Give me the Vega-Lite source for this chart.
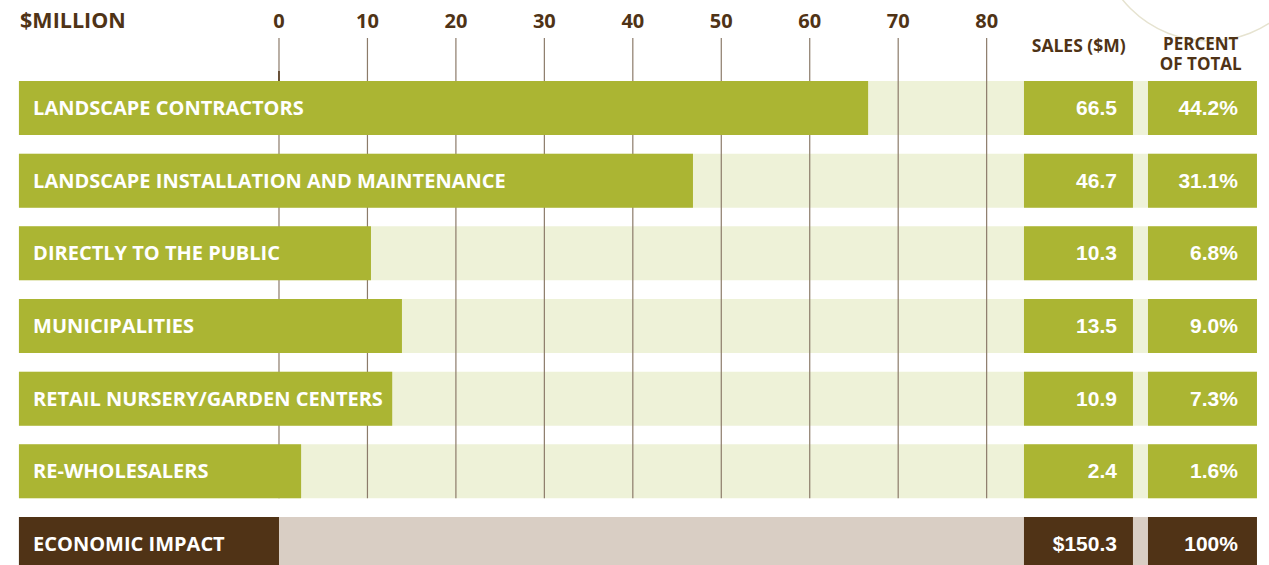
{
  "$schema": "https://vega.github.io/schema/vega-lite/v6.json",
  "width": 1269,
  "height": 565,
  "padding": 0,
  "autosize": {"type": "none"},
  "background": "white",
  "config": {"view": {"stroke": null}, "scale": {"continuousPadding": 0}},
  "datasets": {
    "rows": [
      {"row": 0, "label": "LANDSCAPE CONTRACTORS", "bar": 66.6, "sales": "66.5", "pct": "44.2%", "kind": "item"},
      {"row": 1, "label": "LANDSCAPE INSTALLATION AND MAINTENANCE", "bar": 46.8, "sales": "46.7", "pct": "31.1%", "kind": "item"},
      {"row": 2, "label": "DIRECTLY TO THE PUBLIC", "bar": 10.4, "sales": "10.3", "pct": "6.8%", "kind": "item"},
      {"row": 3, "label": "MUNICIPALITIES", "bar": 13.9, "sales": "13.5", "pct": "9.0%", "kind": "item"},
      {"row": 4, "label": "RETAIL NURSERY/GARDEN CENTERS", "bar": 12.8, "sales": "10.9", "pct": "7.3%", "kind": "item"},
      {"row": 5, "label": "RE-WHOLESALERS", "bar": 2.5, "sales": "2.4", "pct": "1.6%", "kind": "item"},
      {"row": 6, "label": "ECONOMIC IMPACT", "bar": 0, "sales": "$150.3", "pct": "100%", "kind": "total"}
    ],
    "ticks": [
      {"t": 0}, {"t": 10}, {"t": 20}, {"t": 30}, {"t": 40}, {"t": 50}, {"t": 60}, {"t": 70}, {"t": 80}
    ]
  },
  "layer": [
    {
      "data": {"name": "rows"},
      "mark": {"type": "bar", "orient": "horizontal", "height": 54},
      "encoding": {
        "x": {"datum": -29.4, "type": "quantitative", "scale": {"domain": [-31.54, 111.92], "nice": false, "zero": false, "padding": 0}, "axis": null},
        "x2": {"datum": 110.56},
        "y": {"field": "row", "type": "quantitative", "scale": {"domain": [-1.486, 6.289], "nice": false, "zero": false, "reverse": true, "padding": 0}, "axis": null},
        "color": {"condition": {"test": "datum.kind === 'total'", "value": "#d9cec4"}, "value": "#eef2d8"}
      }
    },
    {
      "mark": {"type": "point", "shape": "circle", "filled": false, "stroke": "#e6e3d0", "strokeWidth": 1.5, "size": 49284, "opacity": 1},
      "data": {"values": [{"d": 1}]},
      "encoding": {"x": {"datum": 105.13, "type": "quantitative"}, "y": {"datum": -2.449, "type": "quantitative"}}
    },
    {
      "data": {"name": "ticks"},
      "mark": {"type": "rule", "color": "#8c7b6a", "strokeWidth": 1.2},
      "encoding": {"x": {"field": "t", "type": "quantitative"}, "y": {"datum": -0.963, "type": "quantitative"}, "y2": {"datum": 5.37}}
    },
    {
      "data": {"values": [{"t": 0}]},
      "mark": {"type": "rule", "color": "#4f3316", "strokeWidth": 1.5},
      "encoding": {"x": {"field": "t", "type": "quantitative"}, "y": {"datum": -0.51, "type": "quantitative"}, "y2": {"datum": -0.37}}
    },
    {
      "data": {"name": "rows"},
      "mark": {"type": "bar", "orient": "horizontal", "height": 54},
      "encoding": {
        "x": {"field": "bar", "type": "quantitative"},
        "x2": {"datum": -29.4},
        "y": {"field": "row", "type": "quantitative"},
        "color": {"condition": {"test": "datum.kind === 'total'", "value": "#503316"}, "value": "#abb533"}
      }
    },
    {
      "data": {"name": "rows"},
      "mark": {"type": "bar", "orient": "horizontal", "height": 54},
      "encoding": {
        "x": {"datum": 84.22, "type": "quantitative"},
        "x2": {"datum": 96.54},
        "y": {"field": "row", "type": "quantitative"},
        "color": {"condition": {"test": "datum.kind === 'total'", "value": "#503316"}, "value": "#abb533"}
      }
    },
    {
      "data": {"name": "rows"},
      "mark": {"type": "bar", "orient": "horizontal", "height": 54},
      "encoding": {
        "x": {"datum": 98.24, "type": "quantitative"},
        "x2": {"datum": 110.56},
        "y": {"field": "row", "type": "quantitative"},
        "color": {"condition": {"test": "datum.kind === 'total'", "value": "#503316"}, "value": "#abb533"}
      }
    },
    {
      "data": {"name": "rows"},
      "mark": {"type": "text", "align": "left", "baseline": "middle", "font": "Open Sans", "fontWeight": "bold", "fontSize": 20, "color": "white", "dy": 1},
      "encoding": {"x": {"datum": -27.8, "type": "quantitative"}, "y": {"field": "row", "type": "quantitative"}, "text": {"field": "label"}}
    },
    {
      "data": {"name": "rows"},
      "mark": {"type": "text", "align": "right", "baseline": "middle", "font": "Liberation Sans", "fontWeight": "bold", "fontSize": 21, "color": "white", "dy": 1},
      "encoding": {"x": {"datum": 94.73, "type": "quantitative"}, "y": {"field": "row", "type": "quantitative"}, "text": {"field": "sales"}}
    },
    {
      "data": {"name": "rows"},
      "mark": {"type": "text", "align": "right", "baseline": "middle", "font": "Liberation Sans", "fontWeight": "bold", "fontSize": 21, "color": "white", "dy": 1},
      "encoding": {"x": {"datum": 108.41, "type": "quantitative"}, "y": {"field": "row", "type": "quantitative"}, "text": {"field": "pct"}}
    },
    {
      "data": {"name": "ticks"},
      "mark": {"type": "text", "align": "center", "baseline": "middle", "font": "Open Sans", "fontWeight": "bold", "fontSize": 20, "color": "#4f3316"},
      "encoding": {"x": {"field": "t", "type": "quantitative"}, "y": {"datum": -1.183, "type": "quantitative"}, "text": {"field": "t"}}
    },
    {
      "data": {"values": [{"h": "$MILLION"}]},
      "mark": {"type": "text", "align": "left", "baseline": "middle", "font": "Open Sans", "fontWeight": "bold", "fontSize": 21.5, "color": "#4f3316"},
      "encoding": {"x": {"datum": -29.27, "type": "quantitative"}, "y": {"datum": -1.183, "type": "quantitative"}, "text": {"field": "h"}}
    },
    {
      "data": {"values": [{"h": "SALES ($M)"}]},
      "mark": {"type": "text", "align": "center", "baseline": "middle", "font": "Open Sans", "fontWeight": "bold", "fontSize": 17.5, "color": "#4f3316"},
      "encoding": {"x": {"datum": 90.41, "type": "quantitative"}, "y": {"datum": -0.846, "type": "quantitative"}, "text": {"field": "h"}}
    },
    {
      "data": {"values": [{"h": ["PERCENT", "OF TOTAL"]}]},
      "mark": {"type": "text", "align": "center", "baseline": "middle", "font": "Open Sans", "fontWeight": "bold", "fontSize": 17, "lineHeight": 19.5, "color": "#4f3316"},
      "encoding": {"x": {"datum": 104.2, "type": "quantitative"}, "y": {"datum": -0.866, "type": "quantitative"}, "text": {"field": "h"}}
    }
  ]
}
